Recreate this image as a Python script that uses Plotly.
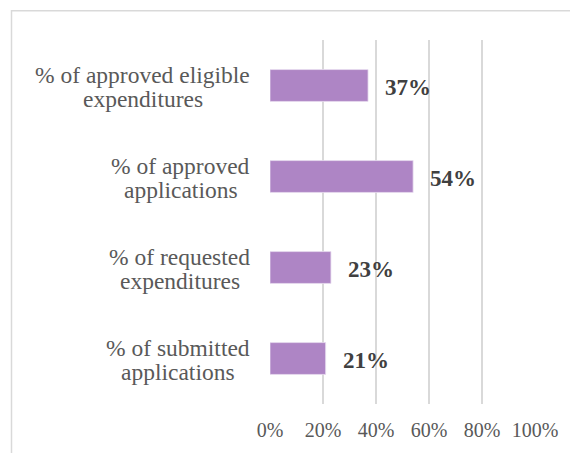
import plotly.graph_objects as go

line1 = ["% of submitted", "% of requested", "% of approved", "% of approved eligible"]
line2 = ["applications", "expenditures", "applications", "expenditures"]
values = [21, 23, 54, 37]
value_labels = ["21%", "23%", "54%", "37%"]
tick_vals = [0, 20, 40, 60, 80, 100]
tick_text = ["0%", "20%", "40%", "60%", "80%", "100%"]

FONT = "Times New Roman, Liberation Serif, Tinos, DejaVu Serif, serif"
CAT_SIZE = 23.5

# Times-metric advance widths (per 1000 em) used to centre the label lines in their block
TIMES_W = {" ": 250, "%": 833, "a": 444, "b": 500, "c": 444, "d": 500, "e": 444, "f": 333,
           "g": 500, "i": 278, "l": 278, "m": 778, "n": 500, "o": 500, "p": 500, "q": 500,
           "r": 333, "s": 389, "t": 278, "u": 500, "v": 500, "x": 500}


def text_width(s, size):
    return sum(TIMES_W.get(ch, 500) for ch in s) * size / 1000.0


# page body has an 8px default margin: size the figure so it fills the window
OFF = 8
W, H = 578 - OFF, 453 - OFF
ML, MR, MT, MB = 270 - OFF, 43, 40 - OFF, 45
pw, ph = W - ML - MR, H - MT - MB

fig = go.Figure()
fig.add_trace(go.Bar(
    y=list(range(len(values))), x=values, orientation="h",
    marker=dict(color="#AE85C5", line=dict(color="#E8DDF0", width=0.8)),
    width=0.35, hoverinfo="skip",
))

annotations = []
for i, (v, t) in enumerate(zip(values, value_labels)):
    annotations.append(dict(x=v, y=i, xref="x", yref="y", text="<b>" + t + "</b>",
                            showarrow=False, xanchor="left", yanchor="middle", xshift=15, yshift=-2,
                            font=dict(family=FONT, size=23, color="#404040")))

# two-line labels: lines centred within a block that is right-aligned 20px left of the axis
for i, (a, b) in enumerate(zip(line1, line2)):
    block_w = max(text_width(a, CAT_SIZE), text_width(b, CAT_SIZE))
    cx = -20 - block_w / 2
    for txt, ys in ((a, 11), (b, -13)):
        annotations.append(dict(x=0, y=i, xref="paper", yref="y", text=txt,
                                showarrow=False, xanchor="center", yanchor="middle",
                                xshift=cx, yshift=ys,
                                font=dict(family=FONT, size=CAT_SIZE, color="#595959")))

fig.update_layout(
    width=W, height=H,
    margin=dict(l=ML, r=MR, t=MT, b=MB),
    paper_bgcolor="white", plot_bgcolor="white",
    showlegend=False,
    xaxis=dict(range=[0, 100], tickvals=tick_vals, ticktext=tick_text,
               showgrid=True, gridcolor="#D9D9D9", gridwidth=1.5, zeroline=False,
               showline=False, ticks="", ticklabelstandoff=12,
               tickfont=dict(family=FONT, size=20, color="#595959")),
    yaxis=dict(range=[-0.5, len(values) - 0.5], showticklabels=False, showgrid=False,
               zeroline=False, showline=False, ticks=""),
    annotations=annotations,
    shapes=[dict(type="rect", xref="paper", yref="paper",
                 x0=(11.5 - OFF - ML) / pw, x1=2, y0=-1, y1=(H - MB - (10.5 - OFF)) / ph,
                 line=dict(color="#D9D9D9", width=1.5), fillcolor="rgba(0,0,0,0)", layer="below")],
)

fig.write_html("out.html")
